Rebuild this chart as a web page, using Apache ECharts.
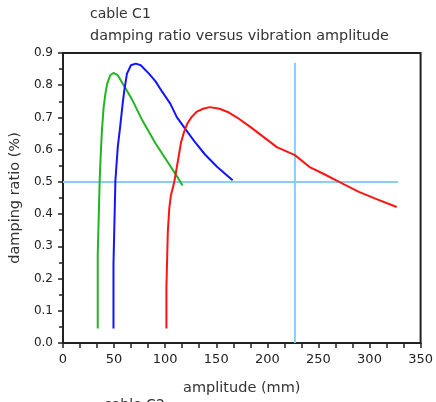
<!DOCTYPE html>
<html><head><meta charset="utf-8">
<script src="https://cdn.jsdelivr.net/npm/echarts@6/dist/echarts.min.js"></script>
<style>html,body{margin:0;padding:0;background:#fff}#c{width:436px;height:402px}</style>
</head><body><div id="c"></div>
<script>
// Data (amplitude mm, damping ratio %)
const greenAmp  = [34.0,34.0,35.9,35.9,37.0,38.2,39.8,41.5,43.3,46.2,49.4,53.6,58.4,68.0,77.6,90.6,103.4,113.0,116.9];
const greenDamp = [0.045,0.274,0.274,0.505,0.590,0.665,0.732,0.774,0.805,0.831,0.838,0.831,0.805,0.753,0.691,0.619,0.557,0.510,0.489];
const blueAmp   = [49.4,49.4,51.3,51.3,53.6,55.9,58.4,60.0,62.6,66.5,71.3,76.1,84.1,90.6,97.0,105.0,111.4,120.0,130.0,139.0,151.0,166.0];
const blueDamp  = [0.045,0.244,0.244,0.505,0.608,0.670,0.743,0.784,0.836,0.862,0.867,0.862,0.836,0.812,0.780,0.743,0.701,0.663,0.620,0.585,0.546,0.505];
const redAmp    = [101.2,101.2,102.6,102.6,104.0,104.0,105.6,105.6,107.2,108.9,111.4,113.7,115.6,118.5,121.7,125.8,130.6,137.1,143.5,153.2,161.2,170.8,183.6,196.5,209.3,227.0,241.4,254.3,270.3,289.6,305.7,326.6];
const redDamp   = [0.045,0.170,0.170,0.345,0.345,0.417,0.417,0.458,0.458,0.500,0.546,0.588,0.624,0.655,0.681,0.701,0.717,0.727,0.732,0.727,0.717,0.699,0.670,0.639,0.608,0.583,0.546,0.526,0.500,0.469,0.448,0.422];
// reference lines
const hRefAmp  = [0, 328];
const hRefDamp = [0.5, 0.5];
const vRefAmp  = [227, 227];
const vRefDamp = [0, 0.87];
const xTicks = [0,50,100,150,200,250,300,350];
const yTicks = [0,0.1,0.2,0.3,0.4,0.5,0.6,0.7,0.8,0.9];

const pairs = (a,b) => a.map((v,i)=>[v,b[i]]);
const FONT = 'DejaVu Sans';
const chart = echarts.init(document.getElementById('c'), null, {renderer:'canvas'});
const lineSeries = (name, data, color) => ({
  name, type:'line', data, symbol:'none', showSymbol:false, animation:false,
  lineStyle:{color, width:2}, itemStyle:{color}, z:3
});
chart.setOption({
  animation:false,
  backgroundColor:'#fff',
  grid:{left:63, right:10, top:53, bottom:59, show:true, borderColor:'#222', borderWidth:2, backgroundColor:'transparent'},
  graphic:[
    {type:'text', left:90, top:7, style:{text:'cable C1', font:'14px "DejaVu Sans"', fill:'#333'}},
    {type:'text', left:90, top:29, style:{text:'damping ratio versus vibration amplitude', font:'14.4px "DejaVu Sans"', fill:'#333'}},
    {type:'text', left:104, top:398, style:{text:'cable C2', font:'14px "DejaVu Sans"', fill:'#333'}}
  ],
  xAxis:{
    type:'value', min:xTicks[0], max:xTicks[xTicks.length-1], interval:50,
    name:'amplitude (mm)', nameLocation:'middle', nameGap:38,
    nameTextStyle:{fontFamily:FONT, fontSize:14.5, color:'#333'},
    axisLine:{show:true, onZero:false, lineStyle:{color:'#222', width:2}},
    axisTick:{show:true, inside:false, length:5, lineStyle:{color:'#222', width:1.5}},
    minorTick:{show:true, splitNumber:3, length:5, lineStyle:{color:'#222', width:1.5}},
    splitLine:{show:false},
    axisLabel:{fontFamily:FONT, fontSize:13, color:'#222', margin:10, showMaxLabel:true}
  },
  yAxis:{
    type:'value', min:yTicks[0], max:yTicks[yTicks.length-1], interval:0.1,
    name:'damping ratio (%)', nameLocation:'middle', nameGap:37,
    nameTextStyle:{fontFamily:FONT, fontSize:14.5, color:'#333'},
    axisLine:{show:true, onZero:false, lineStyle:{color:'#222', width:2}},
    axisTick:{show:true, inside:false, length:5, lineStyle:{color:'#222', width:1.5}},
    minorTick:{show:true, splitNumber:2, length:4, lineStyle:{color:'#222', width:1.5}},
    splitLine:{show:false},
    axisLabel:{fontFamily:FONT, fontSize:12, color:'#222', margin:10, formatter:v=>v.toFixed(1)}
  },
  series:[
    {type:'line', data:pairs(hRefAmp,hRefDamp), symbol:'none', lineStyle:{color:'#8ccdf7', width:2}, z:2, silent:true},
    {type:'line', data:pairs(vRefAmp,vRefDamp), symbol:'none', lineStyle:{color:'#8ccdf7', width:2}, z:2, silent:true},
    lineSeries('green', pairs(greenAmp,greenDamp), '#22b422'),
    lineSeries('blue', pairs(blueAmp,blueDamp), '#1414ff'),
    lineSeries('red', pairs(redAmp,redDamp), '#ff1414')
  ]
});
</script></body></html>
